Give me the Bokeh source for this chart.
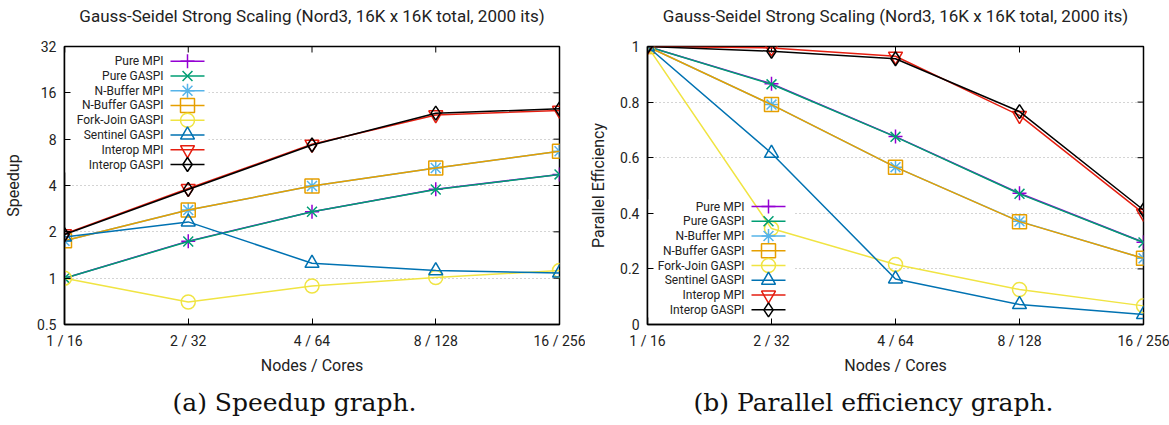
from bokeh.plotting import figure
from bokeh.models import Range1d, LinearScale, FixedTicker, Title, Label
from bokeh.layouts import row
from bokeh.embed import file_html
from bokeh.resources import INLINE
from bokeh.core.properties import value

# ---------------- data ----------------
x_labels = ["1 / 16", "2 / 32", "4 / 64", "8 / 128", "16 / 256"]
series = ["Pure MPI", "Pure GASPI", "N-Buffer MPI", "N-Buffer GASPI",
          "Fork-Join GASPI", "Sentinel GASPI", "Interop MPI", "Interop GASPI"]

speedup_pure_mpi = [1.0, 1.74, 2.70, 3.78, 4.72]
speedup_pure_gaspi = [1.0, 1.73, 2.70, 3.77, 4.72]
speedup_nbuf_mpi = [1.75, 2.77, 3.97, 5.20, 6.68]
speedup_nbuf_gaspi = [1.75, 2.77, 3.97, 5.20, 6.68]
speedup_forkjoin = [1.0, 0.70, 0.89, 1.01, 1.12]
speedup_sentinel = [1.85, 2.32, 1.25, 1.12, 1.08]
speedup_interop_mpi = [1.94, 3.82, 7.42, 11.5, 12.3]
speedup_interop_gaspi = [1.92, 3.77, 7.33, 11.8, 12.6]

eff_pure_mpi = [1.0, 0.866, 0.676, 0.472, 0.296]
eff_pure_gaspi = [1.0, 0.864, 0.675, 0.470, 0.295]
eff_nbuf_mpi = [1.0, 0.791, 0.566, 0.371, 0.238]
eff_nbuf_gaspi = [1.0, 0.791, 0.566, 0.370, 0.238]
eff_forkjoin = [1.0, 0.345, 0.216, 0.126, 0.067]
eff_sentinel = [1.0, 0.616, 0.164, 0.072, 0.036]
eff_interop_mpi = [1.0, 0.995, 0.965, 0.752, 0.400]
eff_interop_gaspi = [1.0, 0.983, 0.956, 0.766, 0.412]

speedup_ticks = [0.5, 1, 2, 4, 8, 16, 32]
speedup_tick_labels = ["0.5", "1", "2", "4", "8", "16", "32"]
eff_ticks = [0, 0.2, 0.4, 0.6, 0.8, 1.0]
eff_tick_labels = ["0", "0.2", "0.4", "0.6", "0.8", "1"]

speedup_data = [speedup_pure_mpi, speedup_pure_gaspi, speedup_nbuf_mpi, speedup_nbuf_gaspi,
                speedup_forkjoin, speedup_sentinel, speedup_interop_mpi, speedup_interop_gaspi]
eff_data = [eff_pure_mpi, eff_pure_gaspi, eff_nbuf_mpi, eff_nbuf_gaspi,
            eff_forkjoin, eff_sentinel, eff_interop_mpi, eff_interop_gaspi]

# ---------------- styles ----------------
colors = ["#9400d3", "#009e73", "#56b4e9", "#e69f00", "#f0e442", "#0072b2", "#e51e10", "#000000"]
markers = ["cross", "x", "asterisk", "square", "circle", "triangle", "inverted_triangle", "diamond"]
FONT = "Roboto"
FRAME_H = 278
TICK_LEN = 6
xs = list(range(len(x_labels)))


def make_fig(data, log, ticks, tick_labels, ylabel, caption, frame_w, border_l, border_r,
             legend_text_x, legend_top, legend_box, y_label_standoff, caption_offset):
    y_range = Range1d(ticks[0], ticks[-1])
    p = figure(frame_width=frame_w, frame_height=FRAME_H,
               x_range=Range1d(xs[0], xs[-1]), y_range=y_range,
               y_axis_type="log" if log else "linear",
               output_backend="svg", toolbar_location=None,
               min_border_left=border_l, min_border_right=border_r,
               min_border_top=46, min_border_bottom=101,
               background_fill_color="white", border_fill_color="white")
    p.outline_line_color = "black"
    p.outline_line_width = 1.5

    title = Label(x=frame_w / 2, y=31, x_units="screen", y_units="screen",
                  text="Gauss-Seidel Strong Scaling (Nord3, 16K x 16K total, 2000 its)",
                  text_align="center", text_baseline="middle", text_font=FONT,
                  text_font_size="17px", text_color="#222222")
    p.add_layout(title, "above")

    # axes
    xa = p.xaxis[0]
    xa.ticker = FixedTicker(ticks=xs)
    xa.major_label_overrides = {i: l for i, l in zip(xs, x_labels)}
    xa.axis_label = "Nodes / Cores"
    ya = p.yaxis[0]
    ya.ticker = FixedTicker(ticks=ticks)
    ya.major_label_overrides = {t: l for t, l in zip(ticks, tick_labels)}
    ya.axis_label = ylabel
    ya.axis_label_standoff = y_label_standoff
    xa.axis_label_standoff = 4
    for ax in [xa, ya]:
        ax.axis_line_color = "black"
        ax.axis_line_width = 1.5
        ax.major_tick_in = TICK_LEN
        ax.major_tick_out = 0
        ax.major_tick_line_color = "black"
        ax.minor_tick_line_color = None
        ax.major_label_text_font = FONT
        ax.major_label_text_font_size = "14px"
        ax.major_label_text_color = "#222222"
        ax.axis_label_text_font = FONT
        ax.axis_label_text_font_size = "16px"
        ax.axis_label_text_font_style = "normal"
        ax.axis_label_text_color = "#222222"
        ax.major_label_standoff = 8

    p.xgrid.visible = False
    p.ygrid.ticker = FixedTicker(ticks=ticks)
    p.ygrid.grid_line_color = "#a8a8a8"
    p.ygrid.grid_line_dash = "1 3"
    p.ygrid.grid_line_width = 1
    p.ygrid.level = "image"

    # pixel coordinate system inside the frame (key, mirror ticks)
    p.extra_x_ranges = {"px": Range1d(0, frame_w)}
    p.extra_y_ranges = {"px": Range1d(FRAME_H, 0)}
    p.extra_x_scales = {"px": LinearScale()}
    p.extra_y_scales = {"px": LinearScale()}

    # mirrored ticks on top and right
    p.segment(x0=xs, x1=xs, y0=[0] * len(xs), y1=[TICK_LEN] * len(xs),
              line_color="black", line_width=1, y_range_name="px")
    p.segment(x0=[frame_w - TICK_LEN] * len(ticks), x1=[frame_w] * len(ticks),
              y0=ticks, y1=ticks, line_color="black", line_width=1, x_range_name="px")

    bl, br, bt, bb = legend_box
    p.quad(left=[bl], right=[br], top=[bt], bottom=[bb], fill_color="white",
           line_color=None, level="underlay", x_range_name="px", y_range_name="px")

    # data
    for vals, c, m in zip(data, colors, markers):
        p.line(xs, vals, line_color=c, line_width=1.5)
        p.scatter(xs, vals, marker=m, size=14, line_color=c, line_width=1.5,
                  fill_alpha=0)

    # key
    step = 14.76
    for i, (name, c, m) in enumerate(zip(series, colors, markers)):
        yy = legend_top + i * step
        p.text(x=[legend_text_x], y=[yy], text=[name], text_align="right",
               text_baseline="middle", text_font=value(FONT), text_font_size="12px",
               text_color="#222222", x_range_name="px", y_range_name="px")
        p.segment(x0=[legend_text_x + 7], x1=[legend_text_x + 41], y0=[yy], y1=[yy],
                  line_color=c, line_width=1.5, x_range_name="px", y_range_name="px")
        p.scatter(x=[legend_text_x + 24], y=[yy], marker=m, size=14, line_color=c,
                  line_width=1.5, fill_alpha=0, x_range_name="px", y_range_name="px")

    cap = Title(text=caption, align="left", text_font="DejaVu Serif",
                text_font_size="25px", text_font_style="normal", text_color="#111111",
                offset=caption_offset, standoff=16)
    p.add_layout(cap, "below")
    return p


p1 = make_fig(speedup_data, True, speedup_ticks, speedup_tick_labels, "Speedup",
              "(a) Speedup graph.", 495, 64, 26, 99, 14.7, (0, 144, 6, 126), 11, 108)
p2 = make_fig(eff_data, False, eff_ticks, eff_tick_labels, "Parallel Efficiency",
              "(b) Parallel efficiency graph.", 496, 62, 26, 97, 160, (0, 146, 153, 271), 9, 46)

layout = row(p1, p2)
open("out.html", "w").write(file_html(layout, INLINE))
